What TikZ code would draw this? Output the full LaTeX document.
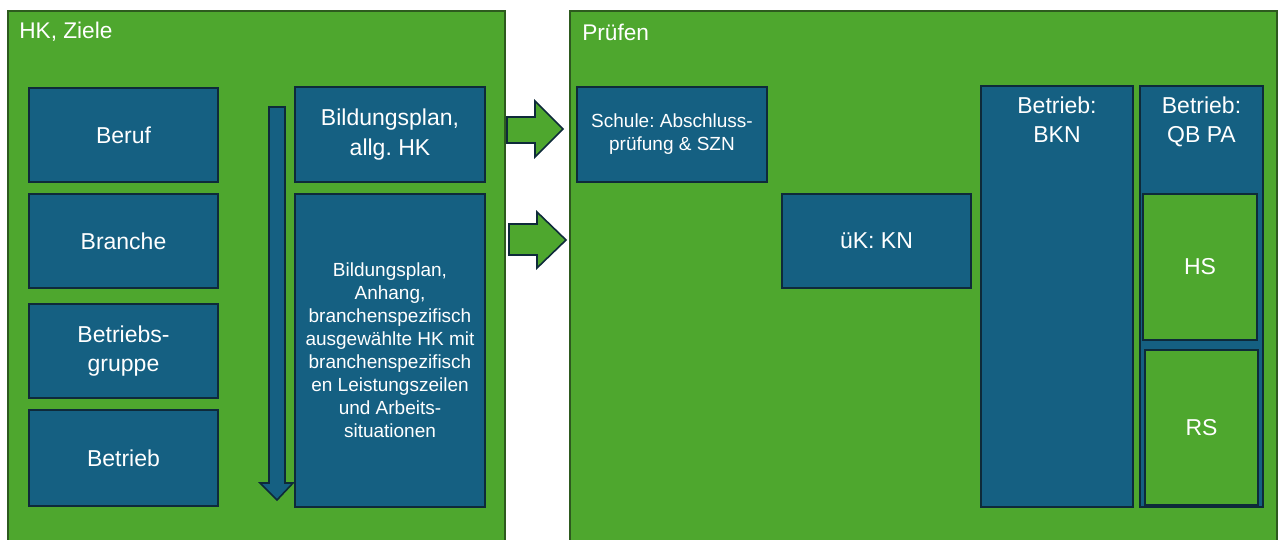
\documentclass[tikz,border=0pt]{standalone}
\usepackage{fontspec}
\setmainfont{Liberation Sans}
\frenchspacing
\definecolor{pgreen}{HTML}{4EA72E}
\definecolor{pblue}{HTML}{156082}
\definecolor{pnavy}{HTML}{0E2A3A}
\definecolor{pdkgreen}{HTML}{2D5A1E}
\tikzset{
  panel/.style={fill=pgreen, draw=pdkgreen, line width=1.2pt},
  bluebox/.style={rectangle, fill=pblue, draw=pnavy, line width=1.4pt, text=white, align=center, inner sep=2pt},
  greenbox/.style={rectangle, fill=pgreen, draw=pnavy, line width=1.4pt, text=white, align=center, inner sep=2pt},
  bigtxt/.style={font=\fontsize{17.25pt}{22pt}\selectfont},
  smalltxt/.style={font=\fontsize{14.25pt}{17.25pt}\selectfont},
  titletxt/.style={text=white, anchor=west, font=\fontsize{17pt}{20pt}\selectfont, inner sep=0pt},
  greenarrow/.style={fill=pgreen, draw=pnavy, line width=1.2pt, line join=miter},
  bluearrow/.style={fill=pblue, draw=pnavy, line width=1.2pt, line join=miter},
}
\begin{document}
\begin{tikzpicture}[x=0.75pt, y=-0.75pt]
\useasboundingbox (0,0) rectangle (1280,539);
\fill[white] (0,0) rectangle (1280,539);
% panels
\path[panel] (8,542) -- (8,11) -- (505,11) -- (505,542);
\path[panel] (570,542) -- (570,11) -- (1277,11) -- (1277,542);
\node[titletxt] (t1) at (19,32) {HK, Ziele};
\node[titletxt] (t2) at (582,32) {Prüfen};
% left column
\node[bluebox, bigtxt, minimum width=141.75pt, minimum height=70.5pt] (beruf) at (123.5,135) {Beruf};
\node[bluebox, bigtxt, minimum width=141.75pt, minimum height=70.5pt] (branche) at (123.5,241) {Branche};
\node[bluebox, bigtxt, minimum width=141.75pt, minimum height=70.5pt] (gruppe) at (123.5,351) {Betriebs-\\gruppe};
\node[bluebox, bigtxt, minimum width=141.75pt, minimum height=72pt] (betrieb) at (123.5,458) {Betrieb};
% down arrow
\path[bluearrow] (269,107) -- (285,107) -- (285,483) -- (293,483) -- (277,500) -- (260,483) -- (269,483) -- cycle;
% right column
\node[bluebox, bigtxt, minimum width=142.5pt, minimum height=71.25pt] (bpa) at (390,134.5) {Bildungsplan,\\allg. HK};
\node[bluebox, smalltxt, minimum width=142.5pt, minimum height=234.75pt] (bpb) at (390,350.5) {Bildungsplan,\\Anhang,\\branchenspezifisch\\ausgewählte HK mit\\branchenspezifisch\\en Leistungszeilen\\und Arbeits-\\situationen};
% arrows between panels
\path[greenarrow] (507,117) -- (535,117) -- (535,101) -- (563,129) -- (535,157) -- (535,143) -- (507,143) -- cycle;
\path[greenarrow] (509,224) -- (537,224) -- (537,212) -- (566,240) -- (537,268) -- (537,255) -- (509,255) -- cycle;
% right panel
\node[bluebox, smalltxt, minimum width=142.5pt, minimum height=71.25pt] (schule) at (672,134.5) {Schule: Abschluss-\\prüfung \& SZN};
\node[bluebox, bigtxt, minimum width=141.75pt, minimum height=70.5pt] (uek) at (876.5,241) {üK: KN};
\node[bluebox, minimum width=114pt, minimum height=315.75pt,
  label={[anchor=north, yshift=-5pt, text=white, align=center, bigtxt]north:{Betrieb:\\BKN}}] (bkn) at (1057,296.5) {};
\node[bluebox, minimum width=92.25pt, minimum height=315.75pt,
  label={[anchor=north, yshift=-5pt, text=white, align=center, bigtxt]north:{Betrieb:\\QB PA}}] (qbpa) at (1201.5,296.5) {};
\node[greenbox, bigtxt, minimum width=85.5pt, minimum height=109.5pt] (hs) at (1200,267) {HS};
\node[greenbox, bigtxt, minimum width=84.75pt, minimum height=116.25pt] (rs) at (1201.5,427.5) {RS};
\end{tikzpicture}
\end{document}
